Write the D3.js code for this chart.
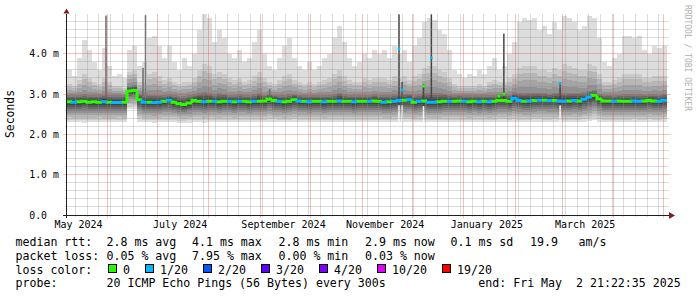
<!DOCTYPE html>
<html><head><meta charset="utf-8">
<script src="https://cdn.jsdelivr.net/npm/d3@7/dist/d3.min.js"></script>
<style>
html,body{margin:0;padding:0;background:#fff;}
svg{display:block;}
text{font-family:"DejaVu Sans Mono",monospace;white-space:pre;}
</style></head><body>
<svg id="chart" width="697" height="297" xml:space="preserve"></svg>
<script>
// ---------- data ----------
const startTime = new Date(2024,4,7,21,22,35);
const endTime   = new Date(2025,4,2,21,22,35);
const binDays = 3;

const medianMs = [
 2.81,2.80,2.81,2.82,2.80,2.81,2.80,2.81,2.80,2.79,
 2.79,2.80,3.08,3.09,2.86,2.80,2.80,2.79,2.80,2.82,
 2.85,2.80,2.76,2.74,2.78,2.84,2.82,2.81,2.82,2.82,
 2.81,2.82,2.82,2.81,2.82,2.82,2.81,2.82,2.82,2.83,
 2.88,2.84,2.82,2.81,2.82,2.86,2.83,2.82,2.81,2.82,
 2.82,2.81,2.82,2.82,2.83,2.82,2.82,2.81,2.82,2.82,
 2.82,2.83,2.82,2.80,2.81,2.82,2.84,2.85,2.86,2.80,
 2.82,2.83,2.80,2.80,2.81,2.82,2.82,2.82,2.83,2.82,
 2.81,2.82,2.81,2.82,2.81,2.82,2.84,2.84,2.82,2.90,
 2.84,2.82,2.83,2.84,2.85,2.85,2.84,2.84,2.83,2.82,
 2.83,2.84,2.83,2.87,2.93,2.97,2.88,2.83,2.83,2.82,
 2.83,2.82,2.82,2.83,2.82,2.83,2.84,2.83,2.82,2.85];

const lossCount = [
 0,1,0,0,0,0,0,1,0,1,
 1,0,0,0,0,1,0,1,1,0,
 1,0,0,0,0,0,0,1,0,1,
 0,0,1,0,1,0,0,1,0,0,
 0,0,1,0,0,0,1,0,1,0,
 0,1,0,0,1,0,0,1,0,0,
 1,0,0,1,0,1,1,0,1,0,
 1,0,1,1,0,0,1,0,0,1,
 0,0,1,0,1,0,0,0,0,1,
 1,0,1,0,1,0,1,0,1,1,
 0,1,0,1,1,0,0,0,0,1,
 0,0,0,1,1,0,0,0,1,1];

const smokeLo = [
 2.31,2.30,2.30,2.29,2.30,2.30,2.31,2.30,2.30,2.30,
 2.31,2.30,2.62,2.63,2.32,2.30,2.30,2.29,2.30,2.30,
 2.30,2.31,2.29,2.28,2.29,2.30,2.30,2.29,2.30,2.30,
 2.30,2.30,2.31,2.30,2.30,2.30,2.31,2.30,2.30,2.30,
 2.32,2.31,2.30,2.30,2.30,2.31,2.30,2.30,2.31,2.30,
 2.30,2.30,2.31,2.30,2.30,2.30,2.30,2.31,2.30,2.30,
 2.30,2.30,2.31,2.30,2.30,2.30,2.31,2.31,2.31,2.30,
 2.30,2.30,2.30,2.30,2.30,2.30,2.30,2.31,2.30,2.30,
 2.30,2.30,2.31,2.30,2.30,2.30,2.31,2.31,2.30,2.32,
 2.30,2.30,2.30,2.31,2.31,2.30,2.30,2.31,2.30,2.30,
 2.30,2.30,2.30,2.31,2.33,2.35,2.31,2.30,2.30,2.30,
 2.30,2.30,2.30,2.31,2.30,2.30,2.31,2.30,2.30,2.31];

const smokeQ25 = [
 2.58,2.58,2.58,2.58,2.58,2.58,2.58,2.58,2.58,2.57,
 2.57,2.58,2.92,2.93,2.62,2.58,2.58,2.57,2.58,2.59,
 2.60,2.58,2.55,2.54,2.56,2.60,2.59,2.58,2.59,2.59,
 2.58,2.59,2.59,2.58,2.59,2.59,2.58,2.59,2.59,2.60,
 2.63,2.60,2.59,2.58,2.59,2.62,2.60,2.59,2.58,2.59,
 2.59,2.58,2.59,2.59,2.60,2.59,2.59,2.58,2.59,2.59,
 2.59,2.60,2.59,2.58,2.58,2.59,2.61,2.61,2.62,2.58,
 2.59,2.60,2.58,2.58,2.58,2.59,2.59,2.59,2.60,2.59,
 2.58,2.59,2.58,2.59,2.58,2.59,2.61,2.61,2.59,2.64,
 2.61,2.59,2.60,2.61,2.62,2.62,2.61,2.61,2.60,2.59,
 2.60,2.61,2.60,2.63,2.66,2.70,2.64,2.60,2.60,2.59,
 2.60,2.59,2.59,2.60,2.59,2.60,2.61,2.60,2.59,2.61];

const smokeQ75 = [
 2.98,2.98,2.98,3.00,2.98,2.98,2.98,3.00,2.98,2.98,
 2.98,2.98,3.22,3.24,3.02,2.98,3.00,3.00,3.00,2.98,
 3.00,2.98,2.96,2.96,2.98,3.00,3.05,3.06,3.05,3.00,
 3.05,3.02,2.98,2.98,3.00,2.98,2.98,3.00,3.05,2.98,
 3.02,2.99,2.98,2.98,3.00,3.02,2.99,2.98,2.98,2.98,
 2.98,2.98,2.98,3.00,3.05,3.00,2.98,2.98,2.98,2.98,
 2.98,3.00,2.98,2.98,2.98,3.00,3.00,3.01,3.02,2.98,
 3.00,3.05,3.05,3.05,3.05,3.02,2.99,2.98,2.99,2.98,
 2.98,2.98,2.98,2.98,2.98,2.98,3.00,3.00,2.99,3.05,
 3.05,3.05,3.05,3.05,3.05,3.05,3.02,3.05,3.05,3.05,
 3.05,3.05,3.05,3.05,3.08,3.10,3.02,2.99,2.99,2.98,
 2.99,3.00,3.00,3.00,3.00,2.99,3.00,3.00,2.99,3.01];

// 19th of 20 sorted pings
const smokeQ95 = [
 3.25,3.20,3.35,3.50,3.40,3.30,3.25,3.40,3.30,3.20,
 3.20,3.15,3.55,3.60,3.30,3.30,3.50,3.55,3.45,3.35,
 3.40,3.30,3.25,3.30,3.30,3.40,3.60,3.75,3.70,3.50,
 3.55,3.50,3.40,3.35,3.40,3.30,3.35,3.45,3.55,3.40,
 3.30,3.25,3.35,3.45,3.50,3.35,3.30,3.25,3.30,3.25,
 3.30,3.35,3.40,3.50,3.60,3.45,3.35,3.30,3.30,3.40,
 3.35,3.40,3.40,3.40,3.35,3.45,3.40,3.45,3.35,3.45,
 3.50,3.65,3.70,3.70,3.60,3.55,3.40,3.25,3.20,3.20,
 3.20,3.20,3.25,3.20,3.30,3.35,3.30,3.30,3.40,3.50,
 3.65,3.70,3.70,3.70,3.60,3.60,3.55,3.65,3.60,3.75,
 3.70,3.65,3.60,3.60,3.75,3.70,3.50,3.30,3.30,3.35,
 3.40,3.50,3.50,3.50,3.50,3.40,3.40,3.45,3.45,3.45];

const smokeHi = [
 3.60,3.45,3.90,4.35,4.10,3.80,3.60,4.15,3.70,3.45,
 3.50,3.40,4.10,4.20,3.70,3.80,4.40,4.45,4.20,3.90,
 4.20,3.80,3.60,3.90,3.70,4.00,4.60,4.98,4.90,4.30,
 4.60,4.40,4.00,3.90,4.10,3.80,3.90,4.30,4.60,4.00,
 3.70,3.60,3.90,4.20,4.40,3.90,3.70,3.60,3.80,3.60,
 3.70,3.90,4.00,4.40,4.70,4.30,3.90,3.70,3.80,4.00,
 3.90,4.10,4.00,4.10,3.90,4.20,4.00,4.10,3.80,4.20,
 4.40,4.80,4.90,4.85,4.60,4.50,4.10,3.60,3.50,3.40,
 3.50,3.45,3.60,3.50,3.70,3.90,3.60,3.70,4.00,4.30,
 4.80,4.90,4.85,4.90,4.60,4.70,4.50,4.80,4.60,4.95,
 4.90,4.80,4.60,4.70,4.95,4.90,4.40,3.80,3.70,3.90,
 4.00,4.45,4.45,4.40,4.45,4.10,4.00,4.20,4.15,4.20];

// short outlier intervals
const spikeTimes  = ["2024-05-31T07:00","2024-06-22T12:00","2024-06-24T00:00","2024-09-06T12:00",
                     "2024-11-23T02:00","2024-11-25T00:00","2024-12-07T19:00","2024-12-12T12:00",
                     "2025-01-22T00:00","2025-01-25T00:00","2025-02-27T18:00"];
const spikeLo     = [2.90,2.95,2.90,2.90,2.75,2.85,2.72,2.90,2.85,2.88,2.75];
const spikeHi     = [4.95,3.65,4.96,3.12,4.98,3.30,3.25,4.98,2.98,4.50,3.30];
const spikeFloor  = [null,null,null,null,2.72,2.72,2.70,null,null,null,2.72];
const spikeMedian = [null,null,null,null,4.12,3.10,3.20,3.90,2.95,3.00,3.27];
const spikeLoss   = [0,0,0,0,1,1,0,1,0,0,1];

const yTicks = [0,1,2,3,4];
const yTickLabels = ["0.0","1.0 m","2.0 m","3.0 m","4.0 m"];
const xLabelMonths = ["2024-05","2024-07","2024-09","2024-11","2025-01","2025-03"];
const xTickLabels = ["May 2024","July 2024","September 2024","November 2024","January 2025","March 2025"];

const lossThresholds = [0,1,2,3,4,10,19];
const lossLabels = ["0","1/20","2/20","3/20","4/20","10/20","19/20"];
const lossColors = ["#26ff00","#00b8ff","#0059ff","#5e00ff","#7e00ff","#dd00ff","#ff0000"];

const rttStatValues = [2.8,4.1,2.8,2.9,0.1];
const rttStatNames  = ["avg","max","min","now","sd"];
const lossStatValues = [0.05,7.95,0.00,0.03];
const lossStatNames  = ["avg","max","min","now"];
const amPerSec = 19.9;
const probeText = "20 ICMP Echo Pings (56 Bytes) every 300s";
const endText = "end: Fri May  2 21:22:35 2025";
const pings = 20;

// ---------- drawing ----------
const svg = d3.select("#chart");
svg.append("rect").attr("width",697).attr("height",297).attr("fill","#ffffff");
const X0=67, X1=667, YB=215, YT=13.5;
const x = d3.scaleTime().domain([startTime,endTime]).range([X0,X1]);
const y = d3.scaleLinear().domain([0,5]).range([YB,YT]);

svg.append("defs").append("clipPath").attr("id","clip")
  .append("rect").attr("x",X0).attr("y",YT).attr("width",X1-X0).attr("height",YB-YT);

const bins = medianMs.map((m,k)=>({
  t:new Date(startTime.getTime()+k*binDays*86400000),
  v:[smokeLo[k],smokeQ25[k],m,smokeQ75[k],smokeQ95[k],smokeHi[k]],
  med:m, loss:lossCount[k]
}));
const qS=[0,0.25,0.5,0.75,18/19,1];
const plot = svg.append("g").attr("clip-path","url(#clip)");
const half = pings/2;
for(let i=1;i<=half;i++){
  const c = Math.floor(190/half*(half-i))+50;
  const sLo=(i-1)/(pings-1), sHi=(pings-i)/(pings-1);
  const pts = bins.map(b=>{const q=d3.scaleLinear().domain(qS).range(b.v);return {t:b.t,a:q(sLo),b:q(sHi)};});
  const last=pts[pts.length-1];
  pts.push({t:endTime,a:last.a,b:last.b});
  const area=d3.area().x(d=>x(d.t)).y0(d=>y(d.a)).y1(d=>y(d.b)).curve(d3.curveStepAfter);
  plot.append("path").attr("d",area(pts)).attr("fill",d3.rgb(c,c,c).formatHex())
     .attr("shape-rendering","crispEdges");
}
const lossClass = n => { let idx=0; lossThresholds.forEach((t,i)=>{ if(n>=t) idx=i; }); return idx; };

// spikes
spikeTimes.forEach((s,i)=>{
  const xs = x(new Date(s));
  if(spikeFloor[i]!=null)
    plot.append("rect").attr("x",xs-0.75).attr("width",1.5)
      .attr("y",y(spikeFloor[i])).attr("height",y(2.27)-y(spikeFloor[i])).attr("fill","#f6f6f6");
  plot.append("rect").attr("x",xs-0.75).attr("width",1.5)
    .attr("y",y(spikeHi[i])).attr("height",y(spikeLo[i])-y(spikeHi[i]))
    .attr("fill",spikeMedian[i]==null?"#6a6a6a":"#444444");
});

// grid (on top of smoke)
const grid = svg.append("g").attr("shape-rendering","crispEdges");
const minorC="rgba(143,143,143,0.32)", majorC="rgba(222,80,80,0.36)";
const monthStarts = d3.timeMonth.range(d3.timeMonth.ceil(startTime), endTime);
const mondays = d3.timeMonday.range(startTime, endTime).filter(d=>d.getDate()!==1);
mondays.forEach(d=>{ const xx=Math.floor(x(d))+0.5;
  grid.append("line").attr("x1",xx).attr("x2",xx).attr("y1",YT).attr("y2",YB+2).attr("stroke",minorC); });
d3.range(1,25).filter(i=>i%5!==0).map(i=>i*0.2).forEach(v=>{ const yy=Math.floor(y(v))+0.5;
  grid.append("line").attr("x1",X0-2).attr("x2",X1+2).attr("y1",yy).attr("y2",yy).attr("stroke",minorC); });
monthStarts.forEach(d=>{ const xx=Math.floor(x(d))+0.5;
  grid.append("line").attr("x1",xx).attr("x2",xx).attr("y1",YT).attr("y2",YB+3).attr("stroke",majorC); });
yTicks.filter(v=>v>0).forEach(v=>{ const yy=Math.floor(y(v))+0.5;
  grid.append("line").attr("x1",X0-4).attr("x2",X1+4).attr("y1",yy).attr("y2",yy).attr("stroke",majorC); });

// median line coloured by loss
const segs = {};
bins.forEach((b,k)=>{
  const x0=x(b.t), x1=k<bins.length-1?x(bins[k+1].t):x(endTime);
  const yp = k>0?y(bins[k-1].med):y(b.med), yy=y(b.med);
  const c=lossClass(b.loss);
  segs[c]=(segs[c]||"")+`M${x0},${yp}V${yy}H${x1}`;
});
const medG = svg.append("g").attr("clip-path","url(#clip)");
Object.keys(segs).forEach(c=>{
  medG.append("path").attr("d",segs[c]).attr("fill","none")
    .attr("stroke",lossColors[c]).attr("stroke-width",3);
});
spikeTimes.forEach((s,i)=>{
  if(spikeMedian[i]==null) return;
  const xs=x(new Date(s));
  medG.append("rect").attr("x",xs-1.25).attr("width",2.5)
    .attr("y",y(spikeMedian[i])-1.5).attr("height",3)
    .attr("fill",lossColors[lossClass(spikeLoss[i])]);
});

// axes
const ax = svg.append("g");
ax.append("line").attr("x1",X0-4).attr("x2",X1+3).attr("y1",YB+0.5).attr("y2",YB+0.5)
  .attr("stroke","#1f1f1f").attr("shape-rendering","crispEdges");
ax.append("path").attr("d",`M${X1+2},${YB-3}L${X1+8},${YB+0.5}L${X1+2},${YB+4}Z`).attr("fill","#801f1f");
ax.append("line").attr("x1",X0-0.5).attr("x2",X0-0.5).attr("y1",YB+3).attr("y2",YT)
  .attr("stroke","#1f1f1f").attr("shape-rendering","crispEdges");
ax.append("path").attr("d",`M${X0-3.5},${YT}L${X0-0.5},${YT-5}L${X0+2.5},${YT}Z`).attr("fill","#801f1f");

// y tick labels
yTicks.forEach((v,i)=>{
  svg.append("text").attr("x",29.3).attr("y",y(v)+3.6).attr("font-size","9.8px")
    .attr("fill","#000").text(yTickLabels[i]);
});
// x tick labels (centred half a month after the month start)
const parseMonth = d3.timeParse("%Y-%m");
xLabelMonths.forEach((m,i)=>{
  const d = d3.timeDay.offset(parseMonth(m),15);
  svg.append("text").attr("x",x(d)-2).attr("y",228).attr("text-anchor","middle")
    .attr("font-size","10px").attr("fill","#000").text(xTickLabels[i]);
});
// y title
svg.append("text").attr("transform","translate(14,114) rotate(-90)").attr("text-anchor","middle")
  .attr("font-size","11.4px").attr("fill","#000").text("Seconds");
// watermark
svg.append("text").attr("transform","translate(684.5,5) rotate(90)")
  .attr("font-size","8px").attr("fill","#b0b0b0").text("RRDTOOL / TOBI OETIKER");

// legend
const LF="11.6px";
const cols=[106.5,192,278.5,365,450.5];
const t = (xx,yy,s,anchor)=>svg.append("text").attr("x",xx).attr("y",yy).attr("font-size",LF)
   .attr("fill","#000").attr("text-anchor",anchor||"start").text(s);
t(15.5,245.5,"median rtt:");
rttStatValues.forEach((v,i)=>t(cols[i],245.5,`${v.toFixed(1)} ms ${rttStatNames[i]}`));
t(530,245.5,amPerSec.toFixed(1));
t(578.5,245.5,"am/s");
t(15.5,259.5,"packet loss:");
lossStatValues.forEach((v,i)=>t(cols[i],259.5,`${v.toFixed(2)} % ${lossStatNames[i]}`));
t(15.5,273.5,"loss color:");
let bx=108;
lossLabels.forEach((l,i)=>{
  svg.append("rect").attr("x",bx+0.5).attr("y",264.5).attr("width",8).attr("height",8)
    .attr("fill",lossColors[i]).attr("stroke","#000").attr("shape-rendering","crispEdges");
  t(bx+15,273.5,l);
  bx += 30 + 7*l.length;
});
t(15.5,287,"probe:");
t(106.5,287,probeText);
t(680.7,287,endText,"end");
</script>
</body></html>
